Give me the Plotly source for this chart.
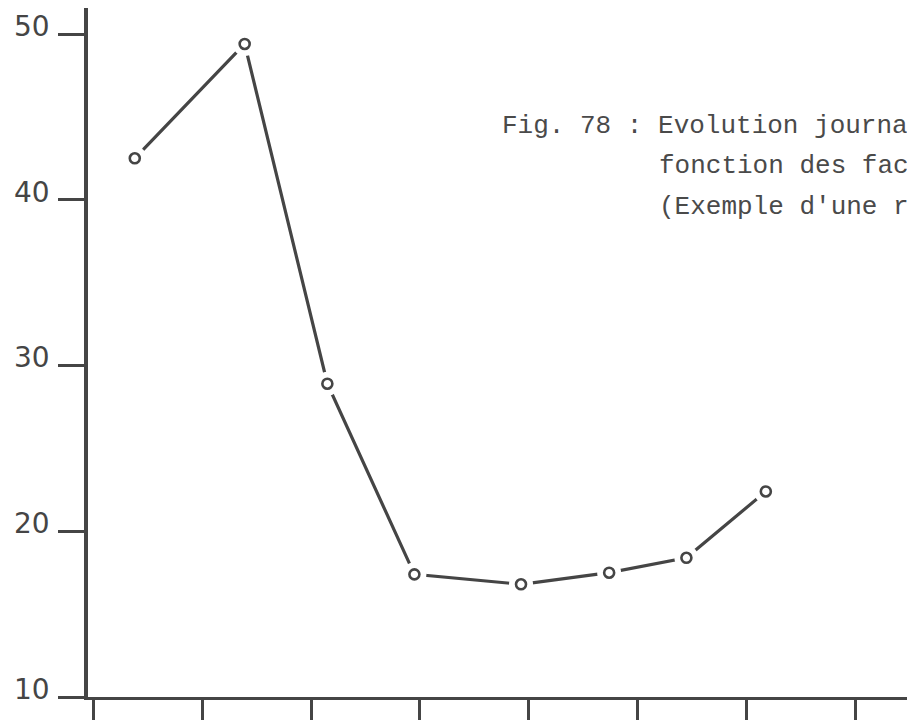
import plotly.graph_objects as go

# Data
x_pos = [0.38, 1.39, 2.15, 2.95, 3.93, 4.74, 5.45, 6.18]
values = [42.5, 49.4, 28.9, 17.4, 16.8, 17.5, 18.4, 22.4]
y_ticks = [10, 20, 30, 40, 50]
y_tick_labels = ["10", "20", "30", "40", "50"]
x_ticks = [0, 1, 2, 3, 4, 5, 6, 7]
caption_lines = ["Fig. 78 : Evolution journa", "fonction des fac", "(Exemple d'une r"]

ink = "#454545"

fig = go.Figure()
fig.add_trace(go.Scatter(x=x_pos, y=values, mode="lines",
                         line=dict(color=ink, width=3.2), hoverinfo="skip"))
fig.add_trace(go.Scatter(x=x_pos, y=values, mode="markers",
                         marker=dict(size=24, color="white", line=dict(width=0)),
                         hoverinfo="skip"))
fig.add_trace(go.Scatter(x=x_pos, y=values, mode="markers",
                         marker=dict(size=10, color="white", line=dict(color=ink, width=2.6))))

OFF = 8  # page body margin
W, H = 915 - OFF, 721 - OFF
L = 88 - OFF
T = 8 - OFF
axis_bottom = 697 - OFF
B = H - axis_bottom
pw = W - L
ph = H - T - B
xscale = 108.8
x0 = -0.05

fig.update_layout(
    width=W, height=H,
    margin=dict(l=L, r=0, t=T, b=B, pad=0),
    paper_bgcolor="white", plot_bgcolor="white",
    showlegend=False,
    xaxis=dict(range=[x0, x0 + pw / xscale], tickvals=x_ticks, ticktext=[""] * len(x_ticks),
               showgrid=False, zeroline=False, showline=True, linecolor=ink, linewidth=3,
               ticks="outside", ticklen=20, tickwidth=3, tickcolor=ink),
    yaxis=dict(range=[10, 10 + ph / 16.575], tickvals=y_ticks, ticktext=y_tick_labels,
               showgrid=False, zeroline=False, showline=True, linecolor=ink, linewidth=3.5,
               ticks="outside", ticklen=26, tickwidth=3, tickcolor=ink,
               ticklabelstandoff=3, ticklabelshift=-8,
               tickfont=dict(family="DejaVu Sans", size=28, color=ink)),
)

def py(ys):
    return (axis_bottom - (ys - OFF)) / ph

def px(xs):
    return ((xs - OFF) - L) / pw

cap_font = dict(family="Liberation Mono", size=26, color="#4a4a4a")
fig.add_annotation(text=caption_lines[0], xref="paper", yref="paper",
                   x=px(500), y=py(126), xanchor="left", yanchor="middle",
                   showarrow=False, font=cap_font)
fig.add_annotation(text=caption_lines[1], xref="paper", yref="paper",
                   x=px(657), y=py(166), xanchor="left", yanchor="middle",
                   showarrow=False, font=cap_font)
fig.add_annotation(text=caption_lines[2], xref="paper", yref="paper",
                   x=px(657), y=py(207), xanchor="left", yanchor="middle",
                   showarrow=False, font=cap_font)

fig.write_html("out.html")
